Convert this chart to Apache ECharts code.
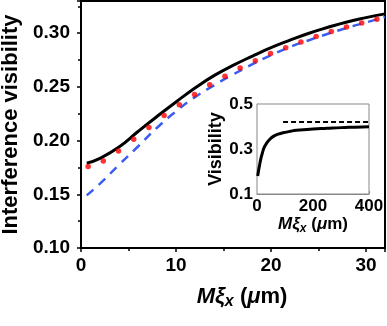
<!DOCTYPE html>
<html>
<head>
<meta charset="utf-8">
<script src="https://cdn.jsdelivr.net/npm/echarts@6/dist/echarts.min.js"></script>
<style>
html,body{margin:0;padding:0;background:#fff;}
#main{width:387px;height:326px;}
</style>
</head>
<body>
<div id="main"></div>
<script>
// main plot: full model (black), approx (blue dashed), simulation points (red)
var solidX = [0.6, 2, 4, 6, 8, 10, 12, 14, 16, 18, 20, 22, 24, 26, 28, 30, 32];
var solidY = [0.179, 0.1835, 0.194, 0.2085, 0.2225, 0.236, 0.249, 0.2605, 0.270, 0.2785, 0.2865, 0.2935, 0.300, 0.3055, 0.3105, 0.3145, 0.318];
var dashX = [0.6, 2, 4, 6, 8, 10, 12, 14, 16, 18, 20, 22, 24, 26, 28, 30, 32];
var dashY = [0.149, 0.160, 0.1775, 0.1945, 0.212, 0.2272, 0.2405, 0.2515, 0.2615, 0.271, 0.2795, 0.2872, 0.2935, 0.2995, 0.305, 0.310, 0.315];
var dotX = [0.75, 2.35, 3.95, 5.55, 7.15, 8.75, 10.35, 11.95, 13.55, 15.15, 16.75, 18.35, 19.95, 21.55, 23.15, 24.75, 26.35, 27.95, 29.55, 31.15];
var dotY = [0.1758, 0.1811, 0.1904, 0.2012, 0.2123, 0.2234, 0.2335, 0.2430, 0.2521, 0.2600, 0.2675, 0.2743, 0.2810, 0.2865, 0.2918, 0.2970, 0.3017, 0.3057, 0.3094, 0.3131];
// inset
var insetX = [2.5, 6, 9.5, 14, 19, 25, 33, 45, 57, 75, 93, 120, 140, 200, 250, 300, 350, 400];
var insetY = [0.18, 0.207, 0.23, 0.258, 0.281, 0.305, 0.323, 0.342, 0.355, 0.366, 0.372, 0.379, 0.383, 0.389, 0.392, 0.395, 0.397, 0.399];
var insetDashX = [93, 400];
var insetDashY = [0.42, 0.42];

function pairs(xs, ys) {
    var res = [];
    for (var i = 0; i < xs.length; i++) res.push([xs[i], ys[i]]);
    return res;
}

var font = 'Liberation Sans, Arial, sans-serif';
var myChart = echarts.init(document.getElementById('main'));

option = {
    animation: false,
    backgroundColor: '#fff',
    grid: [
        {left: 81, top: 1, right: 2, bottom: 78, outerBoundsMode: 'none', containLabel: false, show: true, borderColor: '#000', borderWidth: 2},
        {left: 257, top: 104, width: 112, height: 90, outerBoundsMode: 'none', containLabel: false, show: true, borderColor: '#888', borderWidth: 1, backgroundColor: '#fff', z: 5}
    ],
    xAxis: [
        {
            gridIndex: 0, type: 'value', min: 0, max: 32, interval: 10,
            name: '{i|Mξ}{s|x}{n| (}{i|μ}{n|m)}', nameLocation: 'middle', nameGap: 36,
            nameTextStyle: {
                padding: [0, 0, 0, 18],
                rich: {
                    i: {fontFamily: font, fontSize: 22, fontWeight: 'bold', fontStyle: 'italic', color: '#000'},
                    s: {fontFamily: font, fontSize: 16, fontWeight: 'bold', fontStyle: 'italic', color: '#000', padding: [10, 0, 0, 0]},
                    n: {fontFamily: font, fontSize: 22, fontWeight: 'bold', color: '#000'}
                }
            },
            axisLine: {lineStyle: {color: '#000', width: 2}},
            axisTick: {inside: false, length: 4, lineStyle: {color: '#000', width: 1.5}},
            minorTick: {show: true, splitNumber: 2, length: 3, lineStyle: {color: '#000', width: 1.5}},
            axisLabel: {showMaxLabel: false, margin: 8, fontFamily: font, fontSize: 19, fontWeight: 'bold', color: '#000'},
            splitLine: {show: false}
        },
        {
            gridIndex: 1, type: 'value', min: 0, max: 400, interval: 200,
            name: '{i|Mξ}{s|x}{n| (}{i|μ}{n|m)}', nameLocation: 'middle', nameGap: 19,
            nameTextStyle: {
                rich: {
                    i: {fontFamily: font, fontSize: 17, fontWeight: 'bold', fontStyle: 'italic', color: '#000'},
                    s: {fontFamily: font, fontSize: 12, fontWeight: 'bold', fontStyle: 'italic', color: '#000', padding: [8, 0, 0, 0]},
                    n: {fontFamily: font, fontSize: 17, fontWeight: 'bold', color: '#000'}
                }
            },
            axisLine: {lineStyle: {color: '#888', width: 1}},
            axisTick: {inside: true, length: 3, lineStyle: {color: '#888'}},
            minorTick: {show: true, splitNumber: 4, length: 3, lineStyle: {color: '#888'}},
            axisLabel: {margin: 4, fontFamily: font, fontSize: 17, fontWeight: 'bold', color: '#000'},
            splitLine: {show: false}
        }
    ],
    yAxis: [
        {
            gridIndex: 0, type: 'value', min: 0.10, max: 0.33, interval: 0.05,
            name: 'Interference visibility', nameLocation: 'middle', nameGap: 57,
            nameTextStyle: {fontFamily: font, fontSize: 22, fontWeight: 'bold', color: '#000'},
            axisLine: {show: true, lineStyle: {color: '#000', width: 2}},
            axisTick: {show: true, inside: false, length: 4, lineStyle: {color: '#000', width: 1.5}},
            minorTick: {show: true, splitNumber: 2, length: 3, lineStyle: {color: '#000', width: 1.5}},
            axisLabel: {
                showMaxLabel: false, margin: 11, fontFamily: font, fontSize: 19, fontWeight: 'bold', color: '#000',
                formatter: function (v) { return v.toFixed(2); }
            },
            splitLine: {show: false}
        },
        {
            gridIndex: 1, type: 'value', min: 0.1, max: 0.5, interval: 0.2,
            name: 'Visibility', nameLocation: 'middle', nameGap: 28,
            nameTextStyle: {fontFamily: font, fontSize: 18, fontWeight: 'bold', color: '#000'},
            axisLine: {show: true, lineStyle: {color: '#888', width: 1}},
            axisTick: {show: true, inside: true, length: 3, lineStyle: {color: '#888'}},
            minorTick: {show: true, splitNumber: 4, length: 3, lineStyle: {color: '#888'}},
            axisLabel: {
                margin: 4, fontFamily: font, fontSize: 17, fontWeight: 'bold', color: '#000',
                formatter: function (v) { return v.toFixed(1); }
            },
            splitLine: {show: false}
        }
    ],
    series: [
        {
            name: 'approx', type: 'line', xAxisIndex: 0, yAxisIndex: 0, smooth: true, symbol: 'none',
            lineStyle: {color: '#3a5cf0', width: 2.5, type: [9, 7]},
            data: pairs(dashX, dashY)
        },
        {
            name: 'full', type: 'line', xAxisIndex: 0, yAxisIndex: 0, smooth: true, symbol: 'none',
            lineStyle: {color: '#000', width: 3},
            data: pairs(solidX, solidY)
        },
        {
            name: 'sim', type: 'scatter', xAxisIndex: 0, yAxisIndex: 0, symbolSize: 5.5,
            itemStyle: {color: '#ff0000'},
            data: pairs(dotX, dotY), z: 4
        },
        {
            name: 'inset', type: 'line', xAxisIndex: 1, yAxisIndex: 1, smooth: true, symbol: 'none',
            lineStyle: {color: '#000', width: 3},
            data: pairs(insetX, insetY), z: 6
        },
        {
            name: 'insetLimit', type: 'line', xAxisIndex: 1, yAxisIndex: 1, symbol: 'none',
            lineStyle: {color: '#000', width: 2, type: [5, 3]},
            data: pairs(insetDashX, insetDashY), z: 6
        }
    ]
};
myChart.setOption(option);
</script>
</body>
</html>
